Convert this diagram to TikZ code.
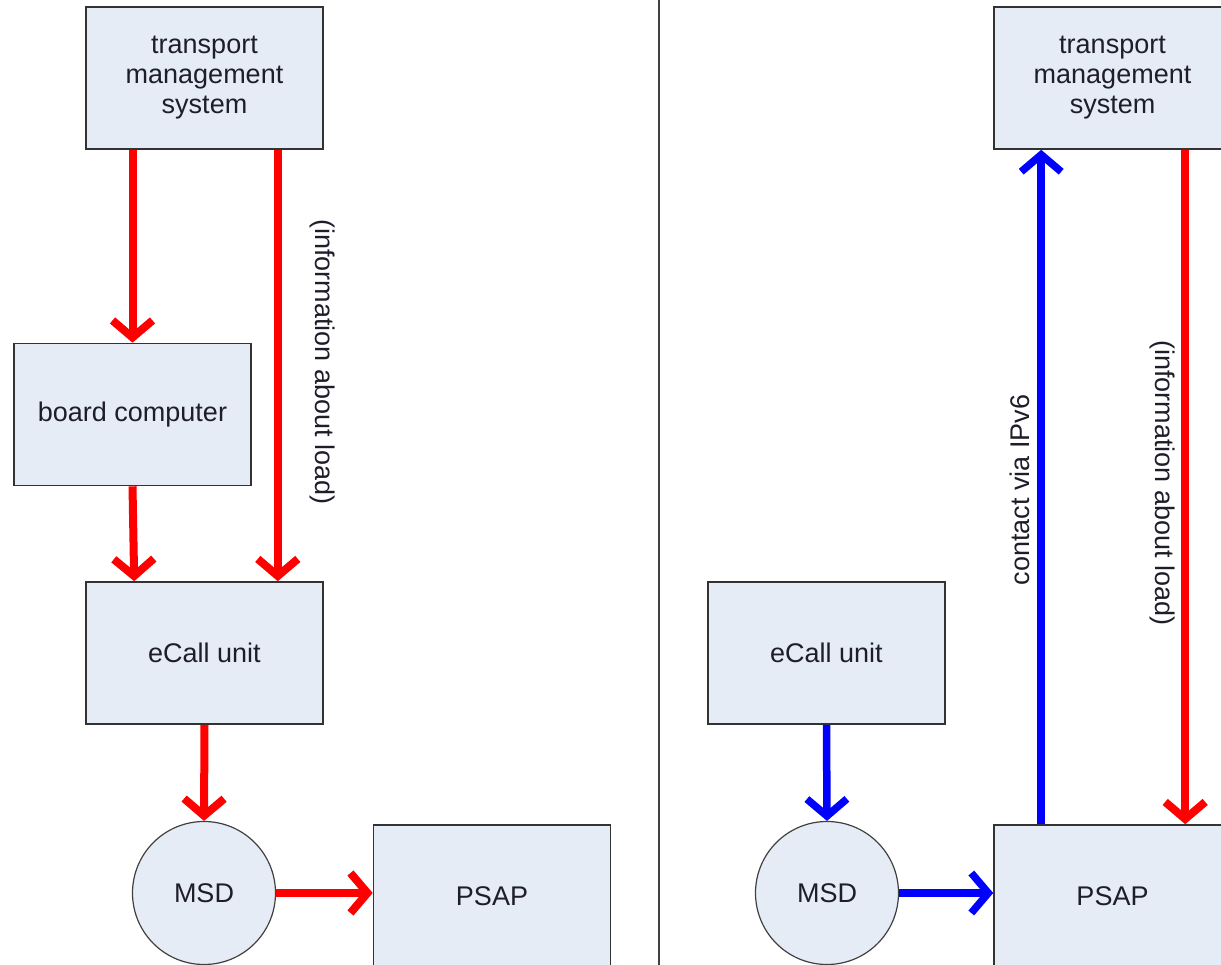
\documentclass[tikz,border=0pt]{standalone}
\usepackage{fontspec}
\setmainfont{Liberation Sans}
\usetikzlibrary{arrows.meta}

\definecolor{boxfill}{HTML}{E6ECF6}
\definecolor{textcol}{HTML}{1E1E2A}

\tikzset{
  box/.style={draw=black!80, line width=1.6pt, fill=boxfill, minimum width=237pt,
    minimum height=142pt, align=center, text=textcol, inner sep=0pt,
    font=\fontsize{27}{30}\selectfont},
  disc/.style={circle, draw=black!75, line width=1.2pt, fill=boxfill, minimum size=143pt,
    inner sep=0pt, text=textcol, font=\fontsize{27}{30}\selectfont},
  label/.style={text=textcol, font=\fontsize{27}{30}\selectfont, inner sep=0pt},
  redarrow/.style={draw=red, line width=8pt, -{Straight Barb[length=17pt,width=40pt]}},
  bluearrow/.style={draw=blue, line width=7.5pt, -{Straight Barb[length=17pt,width=40pt]}}
}

\begin{document}
\begin{tikzpicture}[x=1pt,y=-1pt]
    % page frame
    \useasboundingbox (0,0) rectangle (1221,965);
    \clip (0,0) rectangle (1221,965);

    % separator
    \draw[line width=1.6pt, black!75] (659,0) -- (659,965);

    % left side
    \node[box] (tmsL)  at (204.5,78)  {transport\\management\\system};
    \node[box] (bcL)   at (132.5,414.5) {board computer};
    \node[box] (ecL)   at (204.5,653) {eCall unit};
    \node[disc] (msdL) at (204,893)   {MSD};
    \node[box] (psapL) at (492,896)   {PSAP};

    \draw[redarrow] (bcL.north |- tmsL.south) -- (bcL.north);
    \draw[redarrow] ([xshift=-46pt]tmsL.south east) -- ([xshift=-46pt]ecL.north east);
    \draw[redarrow] (bcL.south) -- ([xshift=49pt]ecL.north west);
    \draw[redarrow] (ecL.south) -- (msdL.north);
    \draw[redarrow] (msdL.east) -- (msdL.east -| psapL.west);

    \node[label, rotate=-90] (loadL) at (322,362) {(information about load)};

    % right side
    \node[box] (tmsR)  at (1112.5,78) {transport\\management\\system};
    \node[box] (ecR)   at (826.5,653) {eCall unit};
    \node[disc] (msdR) at (827,893)   {MSD};
    \node[box] (psapR) at (1112.5,896) {PSAP};

    \draw[bluearrow] ([xshift=48pt]psapR.north west) -- ([xshift=48pt]tmsR.south west);
    \draw[redarrow] ([xshift=192pt]tmsR.south west) -- ([xshift=192pt]psapR.north west);
    \draw[bluearrow] (ecR.south) -- (msdR.north);
    \draw[bluearrow] (msdR.east) -- (msdR.east -| psapR.west);

    \node[label, rotate=90] (ipR) at (1020,490) {contact via IPv6};
    \node[label, rotate=-90] (loadR) at (1162,483) {(information about load)};
\end{tikzpicture}
\end{document}
